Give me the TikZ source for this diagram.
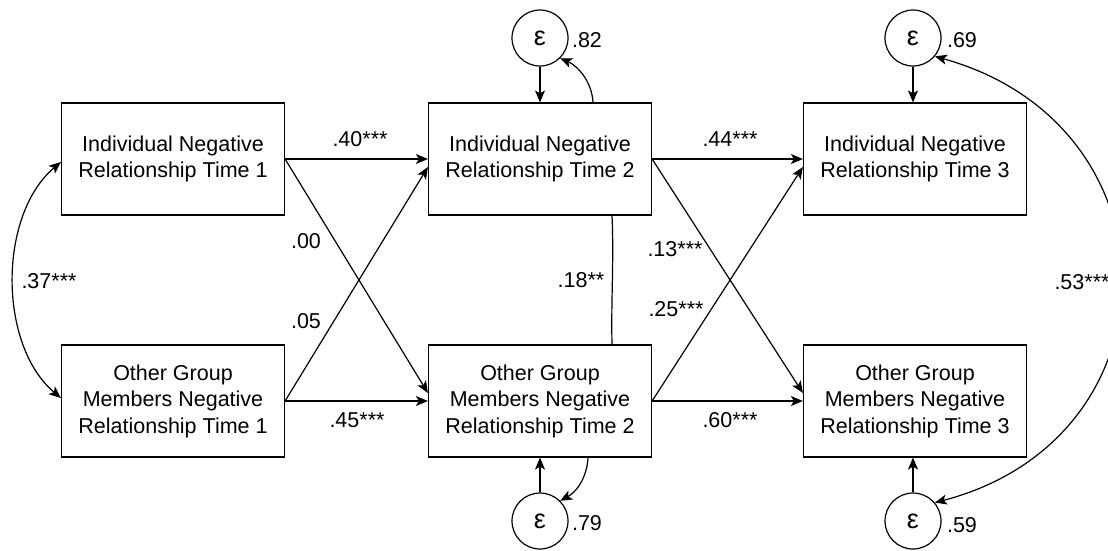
\documentclass[tikz,border=0pt]{standalone}
\usepackage{fontspec}
\setmainfont{Liberation Sans}
\usetikzlibrary{arrows.meta,calc}
\begin{document}
\begin{tikzpicture}[x=1pt,y=-1pt,
  every node/.style={font=\fontsize{21.5}{26.5}\selectfont, inner sep=0pt},
  box/.style={draw, line width=1.2pt, minimum width=223pt, minimum height=112pt, align=center},
  err/.style={draw, circle, line width=1.2pt, minimum size=56pt, font=\fontsize{27}{30}\selectfont},
  arr/.style={line width=1.2pt, -{Stealth[length=12pt,width=10pt,inset=3pt]}},
  darr/.style={line width=1.2pt, {Stealth[length=12pt,width=10pt,inset=3pt]}-{Stealth[length=12pt,width=10pt,inset=3pt]}},
  plain/.style={line width=1.2pt}]
\useasboundingbox (0,0) rectangle (1108,550);

% observed variables
\node[box] (i1) at (173,159) {Individual Negative\\Relationship Time 1};
\node[box] (o1) at (173,401) {Other Group\\Members Negative\\Relationship Time 1};
\node[box] (i2) at (540,159) {Individual Negative\\Relationship Time 2};
\node[box] (o2) at (540,401) {Other Group\\Members Negative\\Relationship Time 2};
\node[box] (i3) at (915,159) {Individual Negative\\Relationship Time 3};
\node[box] (o3) at (915,401) {Other Group\\Members Negative\\Relationship Time 3};

% residuals
\node[err] (e2t) at (540,38) {ε};
\node[err] (e2b) at (540,521) {ε};
\node[err] (e3t) at (913,38) {ε};
\node[err] (e3b) at (913,521) {ε};

% residual paths
\draw[arr] (e2t.south) -- (i2.north);
\draw[arr] (e2b.north) -- (o2.south);
\draw[arr] (e3t.south) -- (e3t.south |- i3.north);
\draw[arr] (e3b.north) -- (e3b.north |- o3.south);

% residual variances
\draw[arr] ($(i2.north)+(53,0)$) .. controls (592,82) and (578,66) .. (e2t.-45);
\draw[arr] ($(o2.south)+(48,0)$) .. controls (587,476) and (578,491) .. (e2b.45);

% time 1 -> time 2
\draw[arr] (i1.east) -- (i2.west);
\draw[arr] (i1.east) -- ($(o2.west)+(0,-8)$);
\draw[arr] (o1.east) -- ($(i2.west)+(0,8)$);
\draw[arr] (o1.east) -- (o2.west);

% time 2 -> time 3
\draw[arr] (i2.east) -- (i3.west);
\draw[arr] (i2.east) -- ($(o3.west)+(0,-8)$);
\draw[arr] (o2.east) -- ($(i3.west)+(0,8)$);
\draw[arr] (o2.east) -- (o3.west);

% covariances
\draw[plain] ($(i2.south)+(72,0)$) .. controls (614,260) and (611,300) .. ($(o2.north)+(72,0)$);
\draw[darr] ($(i1.west)+(0,3)$) .. controls (-2,215) and (-2,345) .. ($(o1.west)+(0,-3)$);
\draw[darr] (e3t.-40) .. controls (1182,125) and (1182,438) .. (e3b.40);

% coefficients
\node at (360,139) {.40***};
\node at (357,420) {.45***};
\node at (306,241) {.00};
\node at (306,321) {.05};
\node at (730,139) {.44***};
\node at (730,420) {.60***};
\node at (675,249) {.13***};
\node at (676,309) {.25***};
\node at (581,280) {.18**};
\node at (49,281) {.37***};
\node at (1082,282) {.53***};
\node at (587,40) {.82};
\node at (962,40) {.69};
\node at (587,523) {.79};
\node at (962,525) {.59};
\end{tikzpicture}
\end{document}
